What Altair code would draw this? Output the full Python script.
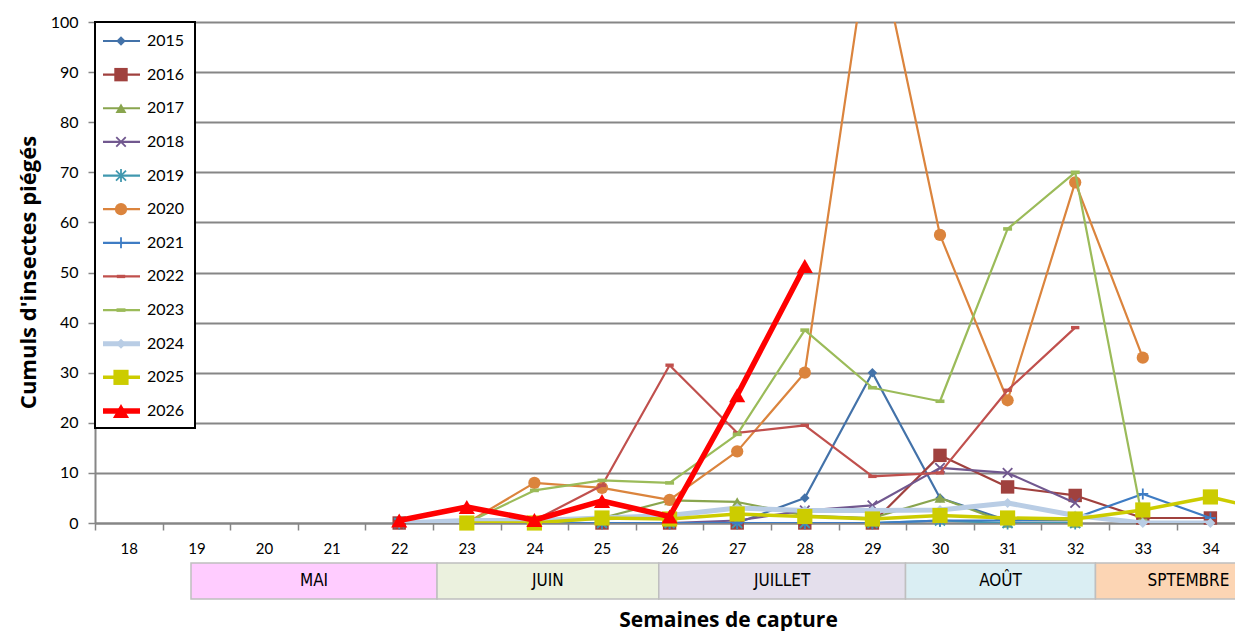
import altair as alt
import pandas as pd

# ---------------- data ----------------
years = ["2015", "2016", "2017", "2018", "2019", "2020",
         "2021", "2022", "2023", "2024", "2025", "2026"]
start_weeks = [22, 22, 22, 22, 22, 23, 22, 22, 22, 22, 23, 22]

v2015 = [0, 0, 0, 0, 0, 0, 5, 30, 5, 0.5, 0.5]
v2016 = [0, 0, 0, 0, 0, 0, 0, 0, 13.5, 7.2, 5.5, 1, 1]
v2017 = [0, 0, 0, 1, 4.5, 4.2, 1.5, 1, 5, 0, 0]
v2018 = [0, 0, 0, 0, 0, 0.5, 2.5, 3.5, 11, 10, 4]
v2019 = [0, 0, 0, 0, 0, 0, 0, 0, 0.5, 0, 0]
v2020 = [0, 8, 7, 4.6, 14.3, 30, 121, 57.5, 24.5, 68, 33]
v2021 = [0, 0, 0, 0, 0, 0, 0, 0, 0.5, 0.5, 1, 5.8, 1]
v2022 = [0, 0.5, 0.5, 7.5, 31.5, 18, 19.5, 9.3, 10, 26.5, 39]
v2023 = [0, 0, 6.5, 8.5, 8, 17.7, 38.5, 27, 24.3, 58.7, 70, 0.5]
v2024 = [0, 0.5, 0.5, 1, 1.5, 3, 2.5, 2.5, 2.6, 4, 1.5, 0, 0]
v2025 = [0, 0, 1, 0.8, 1.8, 1.3, 0.8, 1.5, 1, 0.8, 2.6, 5.2, 2]
v2026 = [0.5, 3.2, 0.6, 4.4, 1.3, 25.5, 51.3]
series = [v2015, v2016, v2017, v2018, v2019, v2020,
          v2021, v2022, v2023, v2024, v2025, v2026]

week_ticks = list(range(18, 35))
y_ticks = list(range(0, 101, 10))

months = ["MAI", "JUIN", "JUILLET", "AOÛT", "SPTEMBRE"]
month_start = [18.92, 22.56, 25.84, 29.49, 32.3]
month_end = [22.56, 25.84, 29.49, 32.3, 35.05]

# ---------------- styles ----------------
colors = ["#4372A9", "#A0413E", "#89A54E", "#71588F", "#4198AF", "#DB843D",
          "#3E7CC4", "#C0504D", "#9BBB59", "#B9CDE5", "#CCCC00", "#FF0000"]
line_widths = [2.2, 2.2, 2.2, 2.2, 2.2, 2.2, 2.2, 2.2, 2.2, 5, 3.5, 5.5]
X_PATH = "M-1,-1L1,1M-1,1L1,-1"
STAR_PATH = "M-1,-1L1,1M-1,1L1,-1M0,-1.3L0,1.3"
PLUS_PATH = "M-1,0L1,0M0,-1L0,1"
DASH_PATH = "M-1,-0.4L1,-0.4L1,0.4L-1,0.4Z"
shapes = ["diamond", "square", "triangle-up", X_PATH, STAR_PATH, "circle",
          PLUS_PATH, DASH_PATH, DASH_PATH, "diamond", "square", "triangle-up"]
sizes = [90, 180, 120, 90, 100, 150, 120, 70, 80, 100, 230, 260]
filled = [True, True, True, False, False, True,
          False, True, True, True, True, True]
month_colors = ["#FFCCFF", "#EBF1DE", "#E4DFEC", "#DAEEF3", "#FCD5B4"]

FONT = "Lato"
TITLE_FONT = "Open Sans"
BAND_FONT = "DejaVu Sans Condensed, Liberation Sans Narrow, Lato"
GRID = "#868686"

rows = []
for y, s0, vals in zip(years, start_weeks, series):
    for i, v in enumerate(vals):
        rows.append({"year": y, "week": s0 + i, "value": v})
df = pd.DataFrame(rows)

xscale = alt.Scale(domain=[17.5, 34.364], nice=False, zero=False)
yscale = alt.Scale(domain=[0, 100], nice=False, zero=True)

xaxis = alt.Axis(values=week_ticks, title="Semaines de capture", grid=False,
                 tickOffset=-33.8, labelOffset=33.8, tickSize=7, tickColor=GRID,
                 tickWidth=1.5, domainColor=GRID, domainWidth=2,
                 labelFont=FONT, labelFontSize=15, labelColor="black", labelPadding=11,
                 titleFont=TITLE_FONT, titleFontSize=21, titleFontWeight="bold",
                 titleColor="black", titleX=633, titleY=97, titleBaseline="middle",
                 titleAlign="center", labelFlush=False)
yaxis = alt.Axis(values=y_ticks, title="Cumuls d'insectes piégés", grid=True,
                 gridColor=GRID, gridWidth=2, tickSize=7, tickColor=GRID, tickWidth=1.5,
                 domainColor=GRID, domainWidth=2, labelFont=FONT, labelFontSize=16,
                 labelColor="black", labelPadding=10,
                 titleFont=TITLE_FONT, titleFontSize=22, titleFontWeight="bold",
                 titleColor="black", titleX=-67, titleY=250, titleAngle=-90,
                 titleBaseline="middle", titleAlign="center")

layers = []

# month band
mdf = pd.DataFrame({"month": months, "start": month_start, "end": month_end,
                    "fill": month_colors})
mdf["mid"] = (mdf["start"] + mdf["end"]) / 2
band = alt.Chart(mdf).mark_rect(stroke="#BFBFBF", strokeWidth=1.5).encode(
    x=alt.X("start:Q", scale=xscale, axis=xaxis),
    x2="end:Q",
    y=alt.value(541), y2=alt.value(577),
    fill=alt.Fill("fill:N", scale=None),
)
band_text = alt.Chart(mdf).mark_text(font=BAND_FONT, fontSize=17,
                                     color="black", baseline="middle").encode(
    x=alt.X("mid:Q", scale=xscale, axis=xaxis),
    y=alt.value(559),
    text="month:N",
)

first = True
for y, c, w, sh, sz, fl in zip(years, colors, line_widths, shapes, sizes, filled):
    d = df[df["year"] == y]
    Y = alt.Y("value:Q", scale=yscale, axis=yaxis if first else None)
    first = False
    ln = alt.Chart(d).mark_line(color=c, strokeWidth=w, clip=True,
                                strokeJoin="round").encode(
        x=alt.X("week:Q", scale=xscale, axis=xaxis), y=Y)
    pt = alt.Chart(d).mark_point(shape=sh, size=sz, filled=fl, color=c, opacity=1,
                                 strokeWidth=1.8).encode(
        x=alt.X("week:Q", scale=xscale, axis=xaxis),
        y=alt.Y("value:Q", scale=yscale, axis=None))
    layers += [ln, pt]

# legend
leg = pd.DataFrame({"year": years, "color": colors, "lw": line_widths,
                    "shape": shapes, "size": sizes, "filled": filled})
LY = alt.Y("year:O", scale=alt.Scale(type="point", domain=years, range=[19, 389],
                                     padding=0), axis=None)
box = alt.Chart(pd.DataFrame({"a": [0]})).mark_rect(
    fill="white", stroke="black", strokeWidth=2).encode(
    x=alt.value(0), x2=alt.value(100), y=alt.value(0), y2=alt.value(406))
leg_lines = alt.Chart(leg).mark_rule().encode(
    x=alt.value(8), x2=alt.value(45), y=LY,
    color=alt.Color("color:N", scale=None),
    strokeWidth=alt.StrokeWidth("lw:Q", scale=None))
leg_fill = alt.Chart(leg[leg["filled"]]).mark_point(filled=True, opacity=1).encode(
    x=alt.value(26), y=LY,
    color=alt.Color("color:N", scale=None),
    shape=alt.Shape("shape:N", scale=None),
    size=alt.Size("size:Q", scale=None))
leg_stroke = alt.Chart(leg[~leg["filled"]]).mark_point(filled=False, opacity=1,
                                                       strokeWidth=1.8).encode(
    x=alt.value(26), y=LY,
    color=alt.Color("color:N", scale=None),
    shape=alt.Shape("shape:N", scale=None),
    size=alt.Size("size:Q", scale=None))
leg_text = alt.Chart(leg).mark_text(align="left", baseline="middle", font=FONT,
                                    fontSize=16, color="black").encode(
    x=alt.value(52), y=LY, text="year:N")

chart = alt.layer(band, band_text, *layers, box, leg_lines, leg_fill, leg_stroke,
                  leg_text).resolve_scale(y="independent").properties(
    width=1140, height=501,
    autosize=alt.AutoSizeParams(type="none"),
    padding={"left": 87, "top": 14, "right": 0, "bottom": 108},
).configure_view(stroke=None).configure(background="white")

chart.save("out.html", embed_options={"renderer": "svg", "actions": False})
